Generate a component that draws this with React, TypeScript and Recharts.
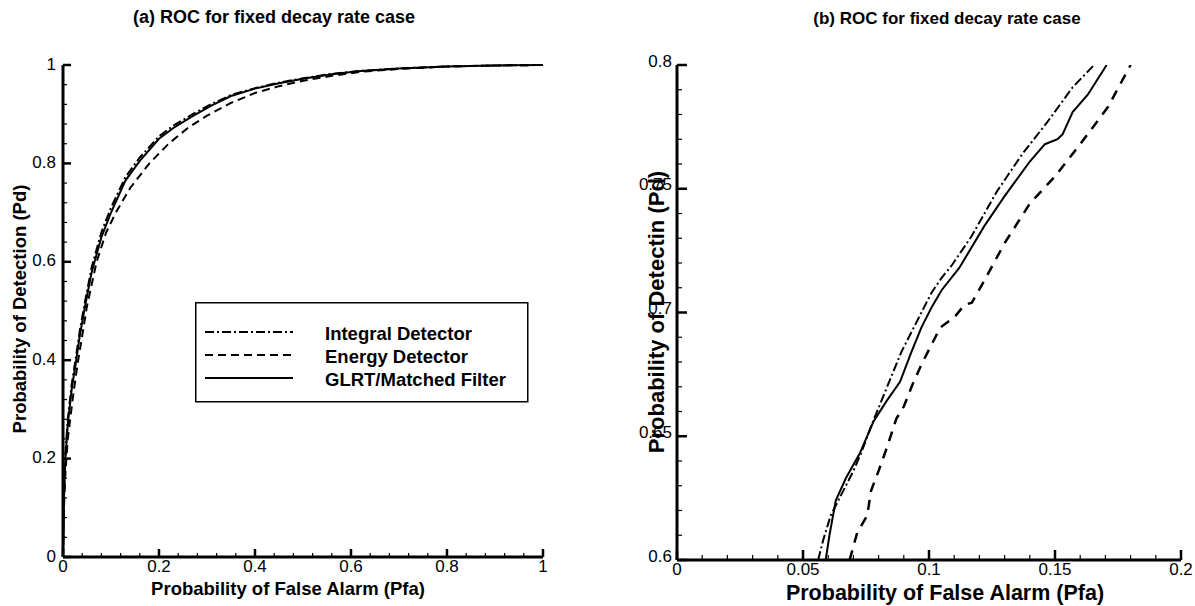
import React from 'react';
import { LineChart, Line, XAxis, YAxis, Legend } from 'recharts';

const FONT = '"Liberation Sans", Arial, sans-serif';

// ---- panel (a): full ROC ----
const aIntegralPfa = [0, 0.002, 0.005, 0.01, 0.018, 0.026, 0.035, 0.046, 0.06, 0.08, 0.1, 0.13, 0.16, 0.2, 0.23, 0.27, 0.31, 0.35, 0.4, 0.45, 0.5, 0.56, 0.62, 0.7, 0.8, 0.9, 1.0];
const aIntegralPd = [0, 0.13, 0.21, 0.28, 0.35, 0.4, 0.46, 0.52, 0.59, 0.66, 0.71, 0.772, 0.812, 0.855, 0.877, 0.9, 0.921, 0.939, 0.953, 0.964, 0.973, 0.982, 0.988, 0.993, 0.997, 0.999, 1.0];

const aEnergyPfa = [0, 0.002, 0.005, 0.01, 0.02, 0.03, 0.04, 0.05, 0.07, 0.09, 0.11, 0.14, 0.18, 0.22, 0.26, 0.3, 0.35, 0.4, 0.45, 0.5, 0.56, 0.62, 0.7, 0.8, 0.9, 1.0];
const aEnergyPd = [0, 0.1, 0.17, 0.24, 0.32, 0.39, 0.45, 0.51, 0.6, 0.66, 0.7, 0.75, 0.8, 0.84, 0.872, 0.897, 0.923, 0.943, 0.957, 0.968, 0.978, 0.986, 0.992, 0.997, 0.999, 1.0];

const aGlrtPfa = [0, 0.002, 0.005, 0.01, 0.018, 0.026, 0.035, 0.046, 0.06, 0.08, 0.1, 0.13, 0.16, 0.2, 0.23, 0.27, 0.31, 0.35, 0.4, 0.45, 0.5, 0.56, 0.62, 0.7, 0.8, 0.9, 1.0];
const aGlrtPd = [0, 0.12, 0.2, 0.27, 0.34, 0.39, 0.45, 0.51, 0.58, 0.65, 0.7, 0.765, 0.805, 0.85, 0.872, 0.896, 0.918, 0.937, 0.952, 0.963, 0.972, 0.981, 0.988, 0.993, 0.997, 0.999, 1.0];

// ---- panel (b): zoomed ROC ----
const bIntegralPfa = [0.056, 0.058, 0.061, 0.065, 0.07, 0.073, 0.077, 0.081, 0.085, 0.089, 0.093, 0.097, 0.101, 0.105, 0.109, 0.117, 0.127, 0.137, 0.147, 0.157, 0.1655];
const bIntegralPd = [0.6, 0.608, 0.618, 0.626, 0.636, 0.643, 0.654, 0.664, 0.674, 0.684, 0.692, 0.7, 0.708, 0.714, 0.719, 0.731, 0.749, 0.764, 0.777, 0.791, 0.8];

const bEnergyPfa = [0.0685, 0.0715, 0.0755, 0.077, 0.08, 0.0835, 0.087, 0.09, 0.0935, 0.097, 0.101, 0.1045, 0.11, 0.114, 0.117, 0.122, 0.13, 0.14, 0.15, 0.16, 0.171, 0.18];
const bEnergyPd = [0.6, 0.611, 0.618, 0.628, 0.636, 0.646, 0.657, 0.662, 0.671, 0.679, 0.687, 0.694, 0.698, 0.703, 0.704, 0.713, 0.728, 0.744, 0.755, 0.768, 0.783, 0.8];

const bGlrtPfa = [0.059, 0.0605, 0.063, 0.067, 0.0725, 0.078, 0.083, 0.0885, 0.093, 0.097, 0.101, 0.105, 0.112, 0.122, 0.13, 0.14, 0.146, 0.151, 0.153, 0.157, 0.163, 0.1705];
const bGlrtPd = [0.6, 0.61, 0.624, 0.633, 0.643, 0.656, 0.664, 0.672, 0.684, 0.694, 0.702, 0.709, 0.718, 0.735, 0.747, 0.761, 0.768, 0.77, 0.772, 0.781, 0.788, 0.8];

// tick labels
const aMajorTicks = [0, 0.2, 0.4, 0.6, 0.8, 1];
const bXMajorTicks = [0, 0.05, 0.1, 0.15, 0.2];
const bYMajorTicks = [0.6, 0.65, 0.7, 0.75, 0.8];

const legendNames = ['Integral Detector', 'Energy Detector', 'GLRT/Matched Filter'];
const DASH_INTEGRAL = '9 3 2 3';
const DASH_ENERGY = '8 5';

const pts = (xs: number[], ys: number[]) => xs.map((x, i) => ({ x, y: ys[i] }));

// majors plus evenly split minor ticks between them
function withMinors(majors: number[], parts: number): number[] {
  const out: number[] = [];
  for (let i = 0; i < majors.length - 1; i++) {
    const step = (majors[i + 1] - majors[i]) / parts;
    for (let k = 0; k < parts; k++) out.push(+(majors[i] + k * step).toFixed(4));
  }
  out.push(majors[majors.length - 1]);
  return out;
}

const isMajor = (v: number, majors: number[]) => majors.some((m) => Math.abs(m - v) < 1e-6);
const fmt = (v: number) => String(+v.toFixed(2));

function BottomTick(props: any) {
  const { x, y, payload, majors, size, majorLen, minorLen } = props;
  const major = isMajor(payload.value, majors);
  return (
    <g>
      <line x1={x} x2={x} y1={y} y2={y - (major ? majorLen : minorLen)} stroke="#000" strokeWidth={major ? 2.5 : 1.2} />
      {major && (
        <text x={x} y={y + 3} textAnchor="middle" dominantBaseline="hanging" fontSize={size} fontFamily={FONT} fill="#000">
          {fmt(payload.value)}
        </text>
      )}
    </g>
  );
}

function LeftTick(props: any) {
  const { x, y, payload, majors, size, majorLen, minorLen, gap, dyLabel } = props;
  const major = isMajor(payload.value, majors);
  return (
    <g>
      <line x1={x} x2={x + (major ? majorLen : minorLen)} y1={y} y2={y} stroke="#000" strokeWidth={major ? 2.5 : 1.2} />
      {major && (
        <text x={x - gap} y={y + dyLabel} textAnchor="end" dominantBaseline="central" fontSize={size} fontFamily={FONT} fill="#000">
          {fmt(payload.value)}
        </text>
      )}
    </g>
  );
}

function LegendBox() {
  const rows = [DASH_INTEGRAL, DASH_ENERGY, undefined];
  return (
    <svg width={334} height={101} style={{ display: 'block' }}>
      <rect x={0.75} y={0.75} width={332} height={99} fill="#fff" stroke="#000" strokeWidth={1.5} />
      {legendNames.map((name, i) => (
        <g key={name}>
          <line x1={10} x2={98} y1={30 + i * 23} y2={30 + i * 23} stroke="#000" strokeWidth={2} strokeDasharray={rows[i]} />
          <text x={130} y={31 + i * 23} dominantBaseline="central" fontSize={18.5} fontWeight="bold" fontFamily={FONT} fill="#000">
            {name}
          </text>
        </g>
      ))}
    </svg>
  );
}

const axisLine = { stroke: '#000', strokeWidth: 3 };

const titleStyle = (left: number, top: number, size: number): React.CSSProperties => ({
  position: 'absolute',
  left,
  top,
  width: 400,
  textAlign: 'center',
  fontSize: size,
  fontWeight: 'bold',
  whiteSpace: 'nowrap',
});

const rotatedStyle = (size: number): React.CSSProperties => ({
  position: 'absolute',
  left: -200,
  top: -size * 0.58,
  width: 400,
  textAlign: 'center',
  fontSize: size,
  fontWeight: 'bold',
  transform: 'rotate(-90deg)',
  whiteSpace: 'nowrap',
});

export default function App() {
  const aXTicks = withMinors(aMajorTicks, 5);
  const bXTicks = withMinors(bXMajorTicks, 5);
  const bYTicks = withMinors(bYMajorTicks, 5);

  return (
    <div style={{ position: 'absolute', left: 0, top: 0, width: 1195, height: 606, background: '#fff', fontFamily: FONT, overflow: 'hidden' }}>
      {/* panel (a) */}
      <div style={titleStyle(74, 7, 18)}>(a) ROC for fixed decay rate case</div>
      <div style={titleStyle(88, 578, 18.5)}>Probability of False Alarm (Pfa)</div>
      <div style={{ position: 'absolute', left: 20, top: 309, width: 0, height: 0 }}>
        <div style={rotatedStyle(18.5)}>Probability of Detection (Pd)</div>
      </div>
      <div style={{ position: 'absolute', left: 0, top: 0 }}>
        <LineChart width={600} height={606} margin={{ left: 62, right: 57, top: 65, bottom: 48 }}>
          <XAxis
            type="number"
            dataKey="x"
            domain={[0, 1]}
            ticks={aXTicks}
            interval={0}
            height={1}
            tickSize={0}
            tickMargin={0}
            axisLine={axisLine}
            tickLine={false}
            tick={(p: any) => <BottomTick {...p} majors={aMajorTicks} size={17} majorLen={8} minorLen={4} />}
          />
          <YAxis
            type="number"
            dataKey="y"
            domain={[0, 1]}
            ticks={aXTicks}
            interval={0}
            width={1}
            tickSize={0}
            tickMargin={0}
            axisLine={axisLine}
            tickLine={false}
            tick={(p: any) => <LeftTick {...p} majors={aMajorTicks} size={17} majorLen={8} minorLen={4} gap={7} dyLabel={-1} />}
          />
          <Legend
            layout="vertical"
            align="center"
            verticalAlign="middle"
            content={() => <LegendBox />}
            wrapperStyle={{ position: 'absolute', left: 195, top: 302, width: 334, height: 101 }}
          />
          <Line data={pts(aIntegralPfa, aIntegralPd)} dataKey="y" type="linear" dot={false} stroke="#000" strokeWidth={2} strokeDasharray={DASH_INTEGRAL} isAnimationActive={false} />
          <Line data={pts(aEnergyPfa, aEnergyPd)} dataKey="y" type="linear" dot={false} stroke="#000" strokeWidth={2} strokeDasharray={DASH_ENERGY} isAnimationActive={false} />
          <Line data={pts(aGlrtPfa, aGlrtPd)} dataKey="y" type="linear" dot={false} stroke="#000" strokeWidth={2} isAnimationActive={false} />
        </LineChart>
      </div>

      {/* panel (b) */}
      <div style={titleStyle(747, 9, 17)}>(b) ROC for fixed decay rate case</div>
      <div style={titleStyle(745, 581, 21.5)}>Probability of False Alarm (Pfa)</div>
      <div style={{ position: 'absolute', left: 657, top: 312, width: 0, height: 0 }}>
        <div style={rotatedStyle(22)}>Probability of Detectin (Pd)</div>
      </div>
      <div style={{ position: 'absolute', left: 600, top: 0 }}>
        <LineChart width={595} height={606} margin={{ left: 76, right: 14, top: 65, bottom: 45 }}>
          <XAxis
            type="number"
            dataKey="x"
            domain={[0, 0.2]}
            ticks={bXTicks}
            interval={0}
            height={1}
            tickSize={0}
            tickMargin={0}
            axisLine={axisLine}
            tickLine={false}
            allowDataOverflow
            tick={(p: any) => <BottomTick {...p} majors={bXMajorTicks} size={17} majorLen={10} minorLen={5} />}
          />
          <YAxis
            type="number"
            dataKey="y"
            domain={[0.6, 0.8]}
            ticks={bYTicks}
            interval={0}
            width={1}
            tickSize={0}
            tickMargin={0}
            axisLine={axisLine}
            tickLine={false}
            allowDataOverflow
            tick={(p: any) => <LeftTick {...p} majors={bYMajorTicks} size={17} majorLen={10} minorLen={5} gap={5} dyLabel={-4} />}
          />
          <Line data={pts(bIntegralPfa, bIntegralPd)} dataKey="y" type="linear" dot={false} stroke="#000" strokeWidth={2} strokeDasharray={DASH_INTEGRAL} isAnimationActive={false} />
          <Line data={pts(bEnergyPfa, bEnergyPd)} dataKey="y" type="linear" dot={false} stroke="#000" strokeWidth={2.5} strokeDasharray="10 8" isAnimationActive={false} />
          <Line data={pts(bGlrtPfa, bGlrtPd)} dataKey="y" type="linear" dot={false} stroke="#000" strokeWidth={2} isAnimationActive={false} />
        </LineChart>
      </div>
    </div>
  );
}
